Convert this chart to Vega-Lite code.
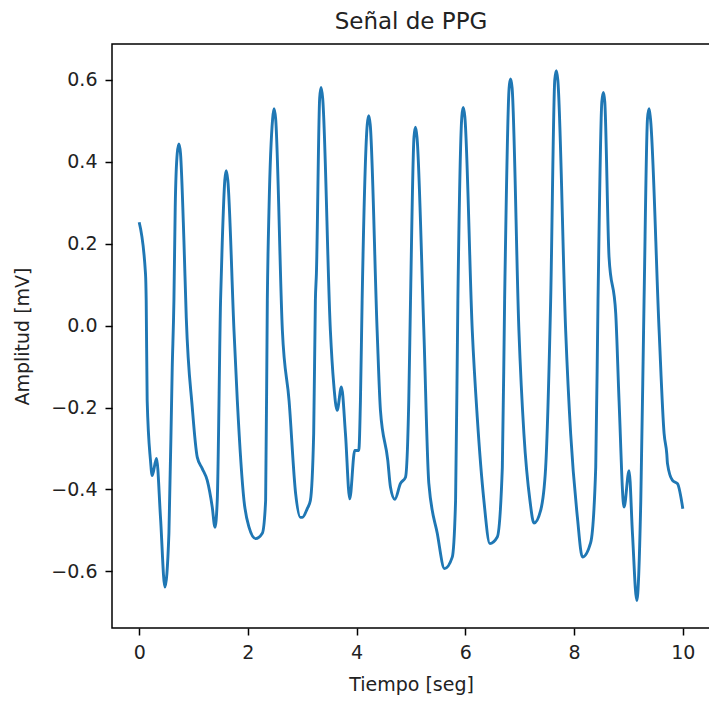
{
  "$schema": "https://vega.github.io/schema/vega-lite/v6.json",
  "autosize": "none",
  "padding": {"left": 112, "top": 44, "right": 0, "bottom": 74},
  "width": 598,
  "height": 584,
  "background": "white",
  "config": {
    "font": "DejaVu Sans",
    "view": {"stroke": "black", "strokeWidth": 1.5},
    "axis": {"grid": false, "domain": false, "tickColor": "black", "tickWidth": 1.5, "tickSize": 7, "labelColor": "#222222", "labelFontSize": 19, "labelFont": "DejaVu Sans", "titleFont": "DejaVu Sans", "titleFontSize": 19, "titleFontWeight": "normal", "titleColor": "#222222"}
  },
  "title": {"text": "Señal de PPG", "fontSize": 23, "fontWeight": "normal", "font": "DejaVu Sans", "color": "#222222", "offset": 10},
  "data": {"values": [
    {"t": 0.00, "v": 0.252},
    {"t": 0.116, "v": 0.127},
    {"t": 0.129, "v": 0.061},
    {"t": 0.147, "v": -0.183},
    {"t": 0.208, "v": -0.329},
    {"t": 0.239, "v": -0.366},
    {"t": 0.319, "v": -0.324},
    {"t": 0.392, "v": -0.468},
    {"t": 0.473, "v": -0.638},
    {"t": 0.547, "v": -0.507},
    {"t": 0.608, "v": -0.102},
    {"t": 0.639, "v": 0.061},
    {"t": 0.663, "v": 0.289},
    {"t": 0.70, "v": 0.42},
    {"t": 0.731, "v": 0.443},
    {"t": 0.76, "v": 0.42},
    {"t": 0.823, "v": 0.207},
    {"t": 0.866, "v": 0.020},
    {"t": 0.976, "v": -0.199},
    {"t": 1.068, "v": -0.321},
    {"t": 1.160, "v": -0.349},
    {"t": 1.252, "v": -0.378},
    {"t": 1.344, "v": -0.443},
    {"t": 1.394, "v": -0.492},
    {"t": 1.436, "v": -0.427},
    {"t": 1.497, "v": 0.061},
    {"t": 1.529, "v": 0.207},
    {"t": 1.575, "v": 0.355},
    {"t": 1.602, "v": 0.378},
    {"t": 1.63, "v": 0.355},
    {"t": 1.744, "v": -0.012},
    {"t": 1.805, "v": -0.183},
    {"t": 1.928, "v": -0.427},
    {"t": 2.020, "v": -0.492},
    {"t": 2.142, "v": -0.520},
    {"t": 2.265, "v": -0.507},
    {"t": 2.326, "v": -0.427},
    {"t": 2.357, "v": 0.061},
    {"t": 2.389, "v": 0.289},
    {"t": 2.455, "v": 0.505},
    {"t": 2.481, "v": 0.529},
    {"t": 2.51, "v": 0.505},
    {"t": 2.634, "v": -0.012},
    {"t": 2.757, "v": -0.183},
    {"t": 2.878, "v": -0.410},
    {"t": 2.965, "v": -0.468},
    {"t": 3.002, "v": -0.468},
    {"t": 3.094, "v": -0.446},
    {"t": 3.149, "v": -0.427},
    {"t": 3.210, "v": -0.263},
    {"t": 3.241, "v": 0.061},
    {"t": 3.260, "v": 0.127},
    {"t": 3.32, "v": 0.555},
    {"t": 3.346, "v": 0.581},
    {"t": 3.375, "v": 0.555},
    {"t": 3.517, "v": -0.012},
    {"t": 3.578, "v": -0.142},
    {"t": 3.641, "v": -0.207},
    {"t": 3.720, "v": -0.150},
    {"t": 3.794, "v": -0.263},
    {"t": 3.873, "v": -0.423},
    {"t": 3.965, "v": -0.305},
    {"t": 4.039, "v": -0.305},
    {"t": 4.070, "v": -0.183},
    {"t": 4.101, "v": 0.061},
    {"t": 4.195, "v": 0.49},
    {"t": 4.223, "v": 0.512},
    {"t": 4.25, "v": 0.49},
    {"t": 4.377, "v": -0.012},
    {"t": 4.438, "v": -0.207},
    {"t": 4.573, "v": -0.329},
    {"t": 4.622, "v": -0.394},
    {"t": 4.702, "v": -0.424},
    {"t": 4.807, "v": -0.385},
    {"t": 4.899, "v": -0.370},
    {"t": 4.959, "v": -0.183},
    {"t": 4.991, "v": 0.061},
    {"t": 5.055, "v": 0.46},
    {"t": 5.083, "v": 0.484},
    {"t": 5.11, "v": 0.46},
    {"t": 5.236, "v": -0.012},
    {"t": 5.328, "v": -0.385},
    {"t": 5.483, "v": -0.507},
    {"t": 5.617, "v": -0.593},
    {"t": 5.759, "v": -0.565},
    {"t": 5.820, "v": -0.427},
    {"t": 5.862, "v": 0.061},
    {"t": 5.935, "v": 0.51},
    {"t": 5.961, "v": 0.532},
    {"t": 5.99, "v": 0.51},
    {"t": 6.127, "v": -0.012},
    {"t": 6.219, "v": -0.224},
    {"t": 6.341, "v": -0.427},
    {"t": 6.451, "v": -0.532},
    {"t": 6.587, "v": -0.516},
    {"t": 6.680, "v": -0.346},
    {"t": 6.722, "v": 0.061},
    {"t": 6.805, "v": 0.58},
    {"t": 6.832, "v": 0.602},
    {"t": 6.86, "v": 0.58},
    {"t": 6.985, "v": -0.012},
    {"t": 7.077, "v": -0.264},
    {"t": 7.188, "v": -0.427},
    {"t": 7.262, "v": -0.482},
    {"t": 7.385, "v": -0.451},
    {"t": 7.477, "v": -0.346},
    {"t": 7.569, "v": 0.061},
    {"t": 7.645, "v": 0.6},
    {"t": 7.674, "v": 0.622},
    {"t": 7.70, "v": 0.6},
    {"t": 7.845, "v": -0.012},
    {"t": 7.937, "v": -0.264},
    {"t": 8.061, "v": -0.468},
    {"t": 8.153, "v": -0.565},
    {"t": 8.306, "v": -0.529},
    {"t": 8.398, "v": -0.346},
    {"t": 8.440, "v": 0.061},
    {"t": 8.51, "v": 0.545},
    {"t": 8.539, "v": 0.569},
    {"t": 8.565, "v": 0.545},
    {"t": 8.643, "v": 0.167},
    {"t": 8.766, "v": 0.029},
    {"t": 8.827, "v": -0.183},
    {"t": 8.919, "v": -0.443},
    {"t": 9.011, "v": -0.354},
    {"t": 9.074, "v": -0.508},
    {"t": 9.153, "v": -0.671},
    {"t": 9.227, "v": -0.427},
    {"t": 9.287, "v": 0.061},
    {"t": 9.35, "v": 0.505},
    {"t": 9.379, "v": 0.529},
    {"t": 9.405, "v": 0.505},
    {"t": 9.564, "v": -0.012},
    {"t": 9.656, "v": -0.264},
    {"t": 9.705, "v": -0.313},
    {"t": 9.718, "v": -0.337},
    {"t": 9.810, "v": -0.378},
    {"t": 9.902, "v": -0.386},
    {"t": 10.0, "v": -0.447}
  ]},
  "mark": {"type": "line", "color": "#1f77b4", "strokeWidth": 2.9, "interpolate": "monotone", "clip": true},
  "encoding": {
    "x": {"field": "t", "type": "quantitative", "scale": {"domain": [-0.5, 10.5], "nice": false, "zero": false},
      "axis": {"values": [0, 2, 4, 6, 8, 10], "title": "Tiempo [seg]", "labelPadding": 8, "titlePadding": 13, "format": "d"}},
    "y": {"field": "v", "type": "quantitative", "scale": {"domain": [-0.738, 0.687], "nice": false, "zero": false},
      "axis": {"values": [-0.6, -0.4, -0.2, 0, 0.2, 0.4, 0.6], "title": "Amplitud [mV]", "labelPadding": 8, "titlePadding": 18,
        "labelExpr": "replace(format(datum.value, '.1f'), '-', '\u2212')"}}
  }
}
